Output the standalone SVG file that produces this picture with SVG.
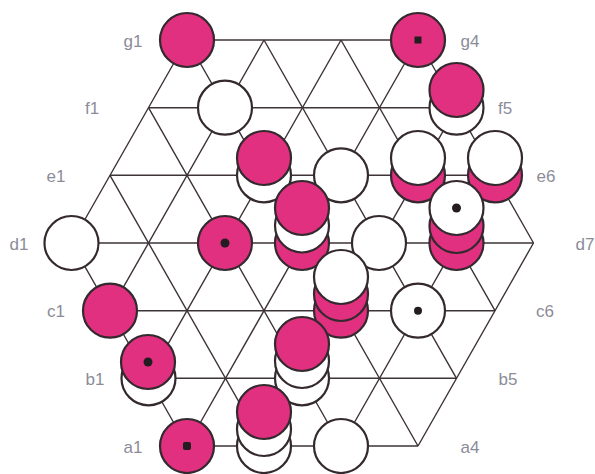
<svg xmlns="http://www.w3.org/2000/svg" width="595" height="474" viewBox="0 0 595 474">
<style>
.l{stroke:#3d3338;stroke-width:1.4;fill:none}
.m{fill:#e1307f;stroke:#33292e;stroke-width:2.2}
.w{fill:#fff;stroke:#33292e;stroke-width:2.2}
.d{fill:#231c20}
text{font-family:"Liberation Sans",Arial,sans-serif;font-size:17px;fill:#8c8c99;text-anchor:middle}
</style>
<rect width="595" height="474" fill="#fff"/>
<g id="connectors" class="l">
<path d="M187 40H418M148.5 107.7H456.5M110 175.3H495M71.5 243H533.5M110 310.7H495M148.5 378.3H456.5M187 446H418"/>
<path d="M71.5 243L187 40M110 310.7L264 40M148.5 378.3L341 40M187 446L418 40M264 446L456.5 107.7M341 446L495 175.3M418 446L533.5 243"/>
<path d="M71.5 243L187 446M110 175.3L264 446M148.5 107.7L341 446M187 40L418 446M264 40L456.5 378.3M341 40L495 310.7M418 40L533.5 243"/>
</g>
<g id="g1"><circle class="m" cx="187" cy="40" r="27"/></g>
<g id="g4"><circle class="m" cx="418" cy="40" r="27"/><rect class="d" x="414.500" y="36.500" width="7" height="7"/></g>
<g id="f2"><circle class="w" cx="225" cy="107.700" r="27"/></g>
<g id="f5"><circle class="w" cx="456.500" cy="107.700" r="27"/><circle class="m" cx="456.500" cy="90" r="27"/></g>
<g id="e3"><circle class="w" cx="264" cy="175.300" r="27"/><circle class="m" cx="264" cy="158" r="27"/></g>
<g id="e4"><circle class="w" cx="341" cy="175.300" r="27"/></g>
<g id="e5"><circle class="m" cx="418" cy="175.300" r="27"/><circle class="w" cx="418" cy="158" r="27"/></g>
<g id="e6"><circle class="m" cx="495" cy="175.300" r="27"/><circle class="w" cx="495" cy="158" r="27"/></g>
<g id="d1"><circle class="w" cx="71.500" cy="243" r="27"/></g>
<g id="d2"><circle class="m" cx="225" cy="243" r="27"/><circle class="d" cx="225" cy="243" r="4.500"/></g>
<g id="d3"><circle class="m" cx="302" cy="243" r="27"/><circle class="w" cx="302" cy="225.500" r="27"/><circle class="m" cx="302" cy="208" r="27"/></g>
<g id="d4"><circle class="w" cx="379" cy="243" r="27"/></g>
<g id="c1"><circle class="m" cx="110" cy="310.700" r="27"/></g>
<g id="c4"><circle class="m" cx="341" cy="310.700" r="27"/><circle class="m" cx="341" cy="294" r="27"/><circle class="w" cx="341" cy="277" r="27"/></g>
<g id="c5"><circle class="w" cx="418" cy="310.700" r="27"/><circle class="d" cx="418" cy="310.700" r="4"/></g>
<g id="d6"><circle class="m" cx="456.500" cy="243" r="27"/><circle class="m" cx="456.500" cy="226" r="27"/><circle class="w" cx="456.500" cy="208" r="27"/><circle class="d" cx="456.500" cy="208" r="4.500"/></g>
<g id="b1"><circle class="w" cx="148.500" cy="378.300" r="27"/><circle class="m" cx="148" cy="362" r="27"/><circle class="d" cx="148" cy="362" r="4.500"/></g>
<g id="b3"><circle class="w" cx="302" cy="378.300" r="27"/><circle class="w" cx="302" cy="361" r="27"/><circle class="m" cx="302" cy="344" r="27"/></g>
<g id="a1"><circle class="m" cx="187" cy="446" r="27"/><rect class="d" x="183" y="442" width="8" height="8" rx="2"/></g>
<g id="a2"><circle class="w" cx="264" cy="446" r="27"/><circle class="w" cx="264" cy="429" r="27"/><circle class="m" cx="264" cy="412" r="27"/></g>
<g id="a3"><circle class="w" cx="341" cy="446" r="27"/></g>
<g id="labels">
<text x="133" y="47">g1</text><text x="92" y="114">f1</text><text x="56" y="182">e1</text><text x="19" y="250">d1</text><text x="56" y="317">c1</text><text x="95" y="385">b1</text><text x="133" y="453">a1</text>
<text x="470" y="47">g4</text><text x="505" y="114">f5</text><text x="546" y="182">e6</text><text x="585" y="250">d7</text><text x="545" y="317">c6</text><text x="508" y="385">b5</text><text x="470" y="453">a4</text>
</g>
</svg>
